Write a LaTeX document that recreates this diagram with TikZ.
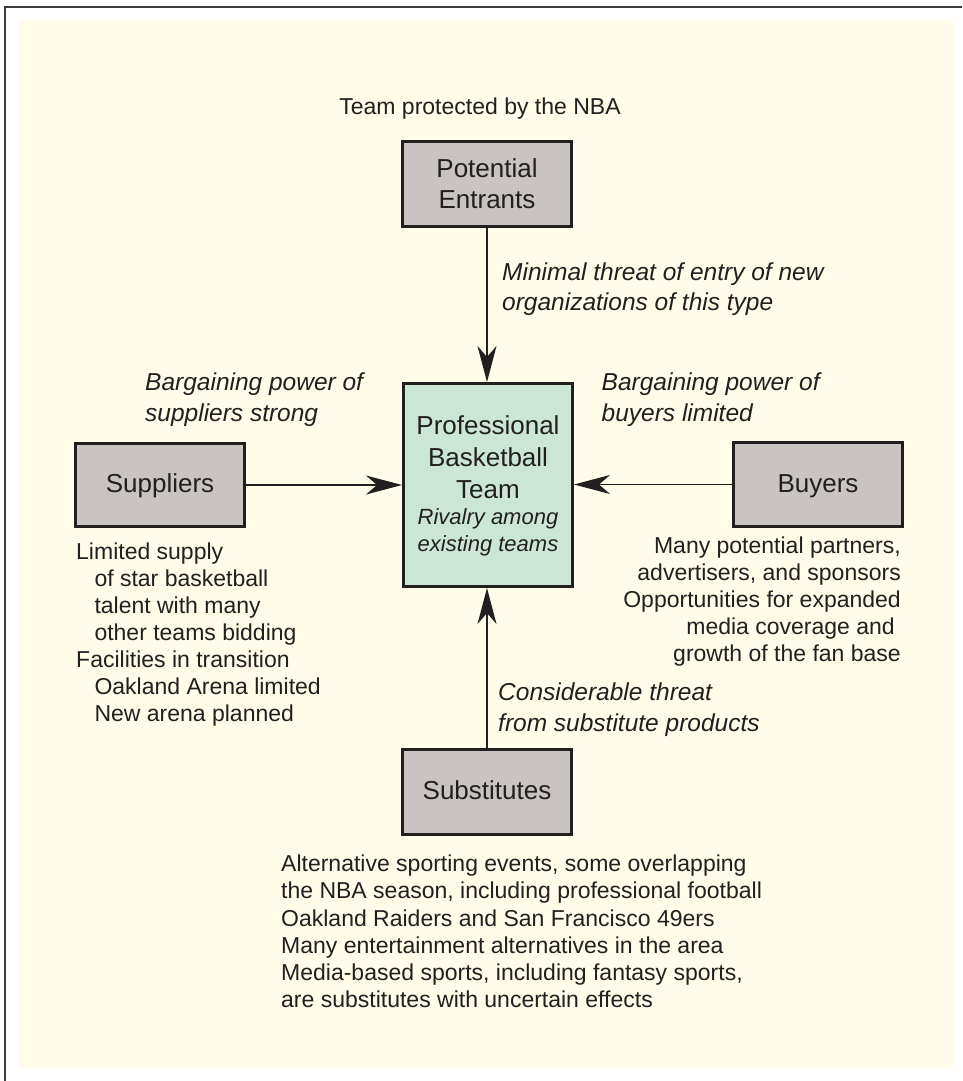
\documentclass[tikz,border=0pt]{standalone}
\usepackage{fontspec}
\setmainfont{Liberation Sans}
\usetikzlibrary{arrows.meta}
\definecolor{ink}{HTML}{231F20}
\definecolor{boxgray}{HTML}{C9C3C1}
\definecolor{teamgreen}{HTML}{CCE6D6}
\definecolor{paper}{HTML}{FFFCEA}
\definecolor{framegray}{HTML}{3C3C3C}
\tikzset{
  box/.style={draw=ink, line width=3pt, fill=boxgray, inner sep=0pt, minimum width=169pt},
  cbox/.style={box, fill=teamgreen},
  txt/.style={text=ink, inner sep=0pt, font=\fontsize{23}{27}\selectfont},
  lbl/.style={text=ink, inner sep=0pt, font=\fontsize{24.5}{30}\selectfont\itshape},
  boxlbl/.style={text=ink, inner sep=0pt, font=\fontsize{26}{31}\selectfont},
  rivlbl/.style={text=ink, inner sep=0pt, font=\fontsize{22}{27}\selectfont\itshape},
  conn/.style={draw=ink, line width=1.3pt, -{Stealth[length=36pt,width=19pt,inset=11pt]}},
}
\begin{document}
\begin{tikzpicture}[x=1pt,y=-1pt]
\useasboundingbox (0,0) rectangle (962,1081);
\fill[white] (0,0) rectangle (962,1081);
\fill[paper] (19,20) rectangle (953,1068);
\draw[framegray, line width=2pt] (5,1081) -- (5,7) -- (962,7);

% boxes
\node[box, minimum height=85pt] (pe) at (487,184) {};
\node[cbox, minimum height=203pt] (cb) at (488,485) {};
\node[box, minimum height=83pt] (sup) at (160,485) {};
\node[box, minimum height=84pt] (buy) at (818,484.5) {};
\node[box, minimum height=85pt] (sub) at (487,792) {};

% box labels
\node[boxlbl, anchor=base] (pe1) at (487,177) {Potential};
\node[boxlbl, anchor=base] (pe2) at (487,208) {Entrants};
\node[boxlbl, anchor=base] (sup1) at (160,492) {Suppliers};
\node[boxlbl, anchor=base] (buy1) at (818,492) {Buyers};
\node[boxlbl, anchor=base] (sub1) at (487,799) {Substitutes};
\node[boxlbl, anchor=base] (cb1) at (488,434.5) {Professional};
\node[boxlbl, anchor=base] (cb2) at (488,466) {Basketball};
\node[boxlbl, anchor=base] (cb3) at (488,498) {Team};
\node[rivlbl, anchor=base] (cb4) at (488,524.5) {Rivalry among};
\node[rivlbl, anchor=base] (cb5) at (488,551) {existing teams};

% connectors
\draw[conn] (pe.south) -- (pe.south |- cb.north);
\draw[conn] (sup.east) -- (sup.east -| cb.west);
\draw[conn] (buy.west) -- (buy.west -| cb.east);
\draw[conn] (sub.north) -- (sub.north |- cb.south);

% top note
\node[txt, anchor=base] (nba) at (480,114) {Team protected by the NBA};

% italic labels
\node[lbl, anchor=base west] (ent1) at (502,280) {Minimal threat of entry of new};
\node[lbl, anchor=base west] (ent2) at (502,310.5) {organizations of this type};
\node[lbl, anchor=base west] (sp1) at (145,390.5) {Bargaining power of};
\node[lbl, anchor=base west] (sp2) at (145,421) {suppliers strong};
\node[lbl, anchor=base west] (bp1) at (601.5,390.5) {Bargaining power of};
\node[lbl, anchor=base west] (bp2) at (601.5,421) {buyers limited};
\node[lbl, anchor=base west] (st1) at (498,700.5) {Considerable threat};
\node[lbl, anchor=base west] (st2) at (498,731) {from substitute products};

% suppliers details
\node[txt, anchor=base west] (sd1) at (76,559.7) {Limited supply};
\node[txt, anchor=base west] (sd2) at (94.3,586.7) {of star basketball};
\node[txt, anchor=base west] (sd3) at (94.3,613.7) {talent with many};
\node[txt, anchor=base west] (sd4) at (94.3,640.7) {other teams bidding};
\node[txt, anchor=base west] (sd5) at (76,667.7) {Facilities in transition};
\node[txt, anchor=base west] (sd6) at (94.3,694.7) {Oakland Arena limited};
\node[txt, anchor=base west] (sd7) at (94.3,721.7) {New arena planned};

% buyers details
\node[txt, anchor=base east] (bd1) at (901,553) {Many potential partners,};
\node[txt, anchor=base east] (bd2) at (901,580) {advertisers, and sponsors};
\node[txt, anchor=base east] (bd3) at (901,607) {Opportunities for expanded};
\node[txt, anchor=base east] (bd4) at (895,634) {media coverage and};
\node[txt, anchor=base east] (bd5) at (901,661) {growth of the fan base};

% substitutes details
\node[txt, anchor=base west] (ud1) at (281,871.8) {Alternative sporting events, some overlapping};
\node[txt, anchor=base west] (ud2) at (281,898.9) {the NBA season, including professional football};
\node[txt, anchor=base west] (ud3) at (281,926) {Oakland Raiders and San Francisco 49ers};
\node[txt, anchor=base west] (ud4) at (281,953.1) {Many entertainment alternatives in the area};
\node[txt, anchor=base west] (ud5) at (281,980.2) {Media-based sports, including fantasy sports,};
\node[txt, anchor=base west] (ud6) at (281,1007.3) {are substitutes with uncertain effects};
\end{tikzpicture}
\end{document}
